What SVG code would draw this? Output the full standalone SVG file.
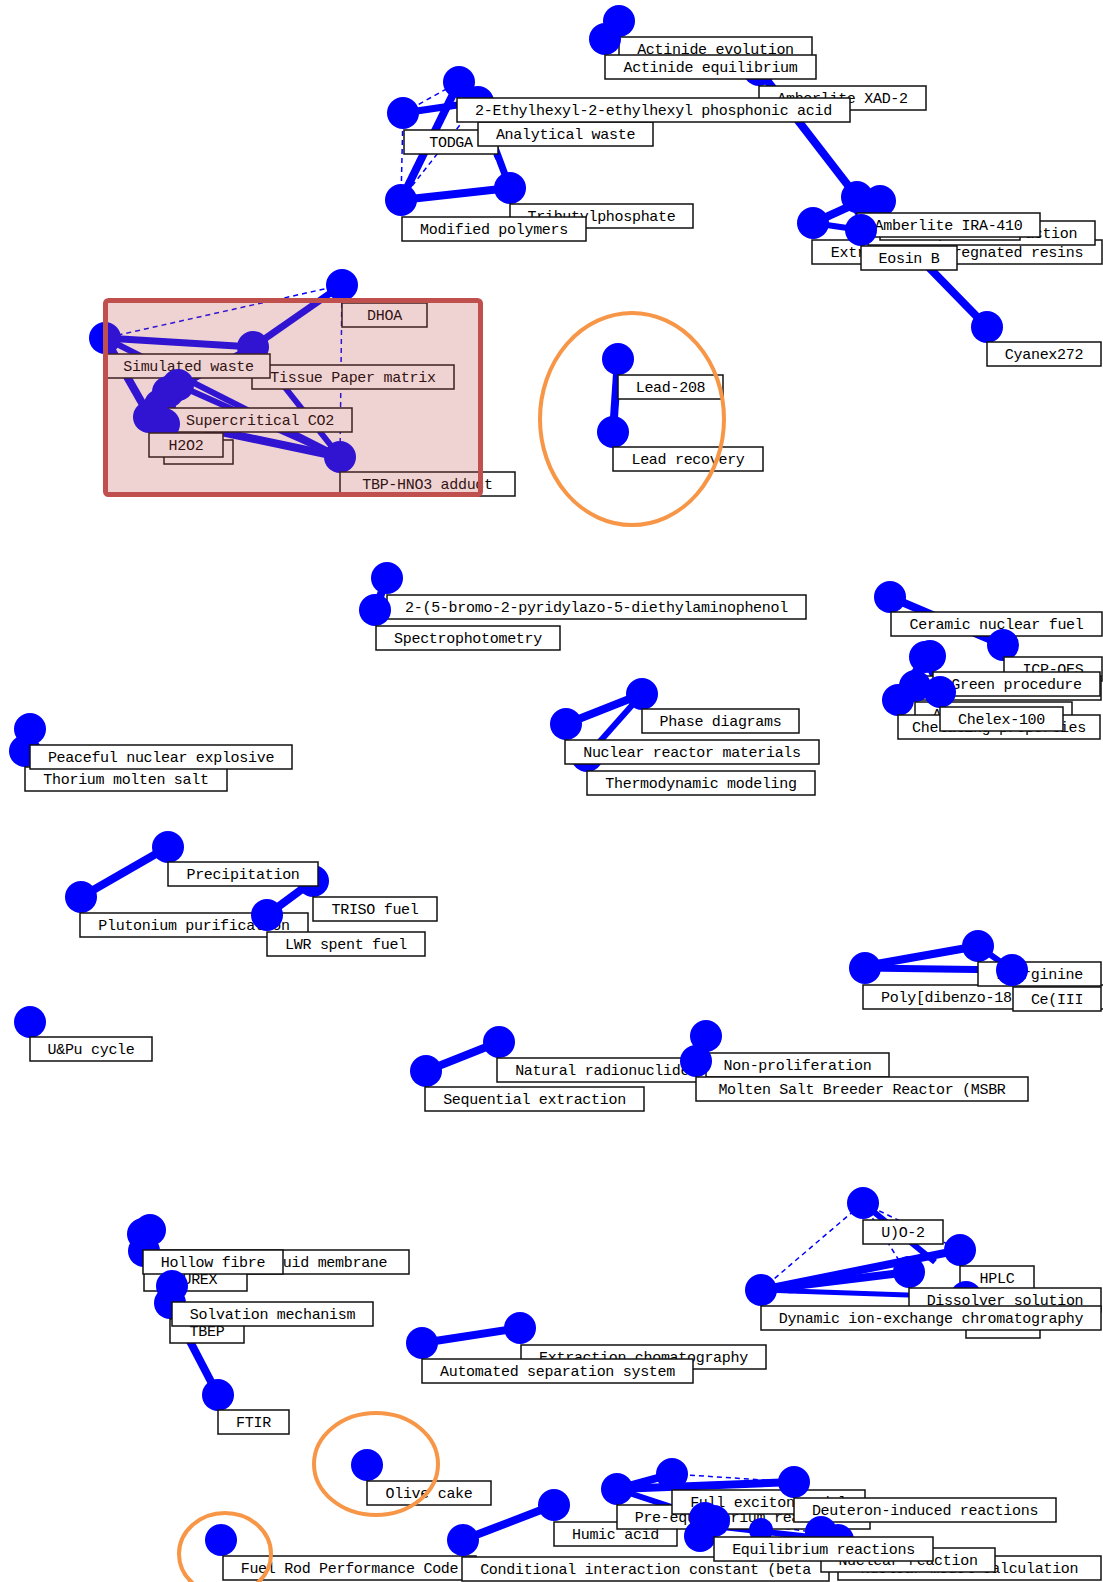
<svg xmlns="http://www.w3.org/2000/svg" width="1103" height="1582" viewBox="0 0 1103 1582">
<style>
.n{fill:#0000ff}
.b{fill:#fff;stroke:#111;stroke-width:1.5}
.t{font-family:"Liberation Mono","DejaVu Sans Mono",monospace;font-size:15px;letter-spacing:-0.3px;text-anchor:middle;fill:#000}
.e{stroke:#0000ff;fill:none}
.d{stroke:#0000ff;stroke-width:1.5;stroke-dasharray:5 4;fill:none}
.hl{fill:none;stroke:#f79646;stroke-width:4}
</style>
<rect width="1103" height="1582" fill="#fff"/>
<g id="connectors">
<line class="e" stroke-width="8" x1="459" y1="82" x2="401" y2="200"/>
<line class="e" stroke-width="7" x1="403" y1="113" x2="478" y2="102"/>
<line class="e" stroke-width="7" x1="478" y1="102" x2="510" y2="188"/>
<line class="e" stroke-width="8" x1="401" y1="200" x2="510" y2="188"/>
<line class="d" x1="403" y1="113" x2="459" y2="82"/>
<line class="d" x1="403" y1="113" x2="401" y2="200"/>
<line class="d" x1="401" y1="200" x2="478" y2="102"/>
<line class="d" x1="459" y1="82" x2="510" y2="188"/>
<line class="e" stroke-width="8" x1="619" y1="21" x2="605" y2="39"/>
<line class="e" stroke-width="8" x1="759" y1="70" x2="857" y2="197"/>
<line class="e" stroke-width="8" x1="813" y1="223" x2="857" y2="203"/>
<line class="e" stroke-width="8" x1="857" y1="197" x2="880" y2="201"/>
<line class="e" stroke-width="6" x1="813" y1="223" x2="861" y2="230"/>
<line class="e" stroke-width="8" x1="868" y1="205" x2="987" y2="327"/>
<line class="e" stroke-width="7" x1="342" y1="285" x2="253" y2="347"/>
<line class="d" x1="342" y1="285" x2="105" y2="338"/>
<line class="d" x1="342" y1="285" x2="340" y2="457"/>
<line class="e" stroke-width="7" x1="105" y1="338" x2="253" y2="347"/>
<line class="e" stroke-width="8" x1="105" y1="338" x2="150" y2="417"/>
<line class="e" stroke-width="6" x1="105" y1="338" x2="340" y2="457"/>
<line class="e" stroke-width="7" x1="253" y1="347" x2="168" y2="392"/>
<line class="e" stroke-width="6" x1="253" y1="347" x2="340" y2="457"/>
<line class="e" stroke-width="8" x1="150" y1="417" x2="340" y2="457"/>
<line class="e" stroke-width="6" x1="178" y1="385" x2="340" y2="457"/>
<line class="e" stroke-width="8" x1="618" y1="359" x2="613" y2="432"/>
<line class="e" stroke-width="8" x1="387" y1="578" x2="375" y2="610"/>
<line class="e" stroke-width="8" x1="890" y1="597" x2="1003" y2="645"/>
<line class="e" stroke-width="8" x1="925" y1="657" x2="898" y2="700"/>
<line class="e" stroke-width="6" x1="925" y1="657" x2="940" y2="692"/>
<line class="e" stroke-width="8" x1="30" y1="729" x2="25" y2="751"/>
<line class="e" stroke-width="8" x1="566" y1="724" x2="642" y2="694"/>
<line class="e" stroke-width="6" x1="642" y1="694" x2="587" y2="756"/>
<line class="e" stroke-width="8" x1="81" y1="897" x2="168" y2="847"/>
<line class="e" stroke-width="8" x1="313" y1="881" x2="267" y2="915"/>
<line class="e" stroke-width="8" x1="865" y1="966" x2="978" y2="946"/>
<line class="e" stroke-width="7" x1="865" y1="968" x2="1012" y2="970"/>
<line class="e" stroke-width="6" x1="978" y1="946" x2="1012" y2="970"/>
<line class="e" stroke-width="8" x1="426" y1="1071" x2="499" y2="1042"/>
<line class="e" stroke-width="8" x1="706" y1="1036" x2="696" y2="1061"/>
<line class="e" stroke-width="8" x1="148" y1="1234" x2="144" y2="1251"/>
<line class="e" stroke-width="8" x1="144" y1="1251" x2="172" y2="1286"/>
<line class="e" stroke-width="8" x1="172" y1="1286" x2="170" y2="1303"/>
<line class="e" stroke-width="8" x1="170" y1="1303" x2="218" y2="1395"/>
<line class="e" stroke-width="8" x1="422" y1="1343" x2="520" y2="1328"/>
<line class="e" stroke-width="8" x1="761" y1="1290" x2="960" y2="1250"/>
<line class="e" stroke-width="8" x1="761" y1="1290" x2="909" y2="1272"/>
<line class="e" stroke-width="6" x1="863" y1="1203" x2="935" y2="1262"/>
<line class="e" stroke-width="5" x1="761" y1="1290" x2="966" y2="1297"/>
<line class="d" x1="761" y1="1290" x2="863" y2="1203"/>
<line class="d" x1="761" y1="1292" x2="960" y2="1295"/>
<line class="d" x1="863" y1="1203" x2="900" y2="1262"/>
<line class="d" x1="863" y1="1203" x2="960" y2="1250"/>
<line class="e" stroke-width="8" x1="463" y1="1540" x2="554" y2="1505"/>
<line class="e" stroke-width="8" x1="617" y1="1489" x2="672" y2="1474"/>
<line class="e" stroke-width="8" x1="617" y1="1489" x2="794" y2="1482"/>
<line class="e" stroke-width="6" x1="617" y1="1489" x2="705" y2="1518"/>
<line class="d" x1="672" y1="1474" x2="794" y2="1482"/>
<line class="d" x1="705" y1="1518" x2="836" y2="1535"/>
<line class="e" stroke-width="8" x1="705" y1="1518" x2="700" y2="1536"/>
<line class="e" stroke-width="6" x1="705" y1="1525" x2="838" y2="1540"/>
</g>

<!-- top-left cluster -->
<g id="node-todga"><circle class="n" cx="403" cy="113" r="16"/><rect class="b" x="404" y="130" width="94" height="24"/><text class="t" x="451" y="147">TODGA</text></g>
<g id="node-modified-polymers-pre"><circle class="n" cx="510" cy="188" r="16"/><rect class="b" x="510" y="204" width="183" height="24"/><text class="t" x="601.5" y="221">Tributylphosphate</text></g>
<g id="node-modified-polymers"><circle class="n" cx="401" cy="200" r="16"/><rect class="b" x="402" y="217" width="184" height="24"/><text class="t" x="494" y="234">Modified polymers</text></g>
<g id="node-analytical-waste"><circle class="n" cx="478" cy="102" r="16"/><rect class="b" x="478" y="122" width="175" height="24"/><text class="t" x="565.5" y="139">Analytical waste</text></g>

<!-- top-right cluster -->
<g id="node-xad2"><circle class="n" cx="759" cy="70" r="16"/><rect class="b" x="759" y="86" width="167" height="24"/><text class="t" x="842.5" y="103">Amberlite XAD-2</text></g>
<g id="node-actinide-evolution"><circle class="n" cx="619" cy="21" r="16"/><rect class="b" x="619" y="37" width="193" height="24"/><text class="t" x="715.5" y="54">Actinide evolution</text></g>
<g id="node-actinide-equilibrium"><circle class="n" cx="605" cy="39" r="16"/><rect class="b" x="605" y="55" width="211" height="24"/><text class="t" x="710.5" y="72">Actinide equilibrium</text></g>
<g id="node-ethylhexyl"><circle class="n" cx="459" cy="82" r="16"/><rect class="b" x="457" y="98" width="393" height="24"/><text class="t" x="653.5" y="115">2-Ethylhexyl-2-ethylhexyl phosphonic acid</text></g>

<g id="node-impregnated-resins"><circle class="n" cx="813" cy="223" r="16"/><rect class="b" x="812" y="240" width="290" height="24"/><text class="t" x="957" y="257">Extractant-impregnated resins</text></g>
<g id="node-spe"><circle class="n" cx="868" cy="205" r="16"/><rect class="b" x="868" y="221" width="227" height="24"/><text class="t" x="981.5" y="238">Solid phase extraction</text></g>
<g id="node-hidden-1"><circle class="n" cx="880" cy="201" r="16"/><rect class="b" x="880" y="216" width="140" height="24"/></g>
<g id="node-ira410"><circle class="n" cx="857" cy="197" r="16"/><rect class="b" x="857" y="213" width="183" height="24"/><text class="t" x="948.5" y="230">Amberlite IRA-410</text></g>
<g id="node-eosin"><circle class="n" cx="861" cy="230" r="16"/><rect class="b" x="861" y="246" width="96" height="24"/><text class="t" x="909" y="263">Eosin B</text></g>
<g id="node-cyanex"><circle class="n" cx="987" cy="327" r="16"/><rect class="b" x="987" y="342" width="114" height="24"/><text class="t" x="1044" y="359">Cyanex272</text></g>

<!-- highlighted cluster -->
<g id="node-dhoa"><circle class="n" cx="342" cy="285" r="16"/><rect class="b" x="342" y="303" width="85" height="24"/><text class="t" x="384.5" y="320">DHOA</text></g>
<g id="node-tissue"><circle class="n" cx="253" cy="347" r="16"/><rect class="b" x="252" y="365" width="202" height="24"/><text class="t" x="353" y="382">Tissue Paper matrix</text></g>
<g id="node-simulated-waste"><circle class="n" cx="105" cy="338" r="16"/><rect class="b" x="107" y="354" width="163" height="24"/><text class="t" x="188.5" y="371">Simulated waste</text></g>
<g id="node-extra-blob"><circle class="n" cx="178" cy="385" r="16"/><circle class="n" cx="160" cy="405" r="16"/></g>
<g id="node-scco2"><circle class="n" cx="168" cy="392" r="16"/><rect class="b" x="168" y="408" width="184" height="24"/><text class="t" x="260" y="425">Supercritical CO2</text></g>
<g id="node-hidden-2"><circle class="n" cx="164" cy="424" r="16"/><rect class="b" x="164" y="440" width="69" height="24"/></g>
<g id="node-h2o2"><circle class="n" cx="149" cy="417" r="16"/><rect class="b" x="149" y="433" width="74" height="24"/><text class="t" x="186" y="450">H2O2</text></g>
<g id="node-tbp"><circle class="n" cx="340" cy="457" r="16"/><rect class="b" x="340" y="472" width="175" height="24"/><text class="t" x="427.5" y="489">TBP-HNO3 adduct</text></g>
<rect id="highlight-box" x="105.5" y="300.5" width="375" height="194" rx="3" fill="#c0504d" fill-opacity="0.25" stroke="#c0504d" stroke-width="5"/>

<!-- lead -->
<g id="node-lead208"><circle class="n" cx="618" cy="359" r="16"/><rect class="b" x="618" y="375" width="105" height="24"/><text class="t" x="670.5" y="392">Lead-208</text></g>
<g id="node-lead-recovery"><circle class="n" cx="613" cy="432" r="16"/><rect class="b" x="613" y="447" width="150" height="24"/><text class="t" x="688" y="464">Lead recovery</text></g>
<ellipse class="hl" cx="632" cy="419" rx="92" ry="106"/>

<!-- spectro -->
<g id="node-bromo"><circle class="n" cx="387" cy="578" r="16"/><rect class="b" x="387" y="595" width="419" height="24"/><text class="t" x="596.5" y="612">2-(5-bromo-2-pyridylazo-5-diethylaminophenol</text></g>
<g id="node-spectro"><circle class="n" cx="375" cy="610" r="16"/><rect class="b" x="376" y="626" width="184" height="24"/><text class="t" x="468" y="643">Spectrophotometry</text></g>

<!-- ceramic -->
<g id="node-ceramic"><circle class="n" cx="890" cy="597" r="16"/><rect class="b" x="891" y="612" width="211" height="24"/><text class="t" x="996.5" y="629">Ceramic nuclear fuel</text></g>
<g id="node-icp"><circle class="n" cx="1003" cy="645" r="16"/><rect class="b" x="1004" y="657" width="98" height="24"/><text class="t" x="1053" y="674">ICP-OES</text></g>
<g id="node-hidden-3"><circle class="n" cx="925" cy="657" r="16"/><rect class="b" x="917" y="676" width="184" height="24"/></g>
<g id="node-green"><circle class="n" cx="930" cy="656" r="16"/><rect class="b" x="933" y="672" width="167" height="24"/><text class="t" x="1016.5" y="689">Green procedure</text></g>
<g id="node-alpha"><circle class="n" cx="915" cy="686" r="16"/><rect class="b" x="915" y="702" width="157" height="24"/><text class="t" x="993.5" y="719">Alpha emitters</text></g>
<g id="node-chelating"><circle class="n" cx="898" cy="700" r="16"/><rect class="b" x="898" y="715" width="202" height="24"/><text class="t" x="999" y="732">Chelating properties</text></g>
<g id="node-chelex"><circle class="n" cx="940" cy="692" r="16"/><rect class="b" x="940" y="707" width="123" height="24"/><text class="t" x="1001.5" y="724">Chelex-100</text></g>

<!-- peaceful -->
<g id="node-thorium"><circle class="n" cx="25" cy="751" r="16"/><rect class="b" x="25" y="767" width="202" height="24"/><text class="t" x="126" y="784">Thorium molten salt</text></g>
<g id="node-peaceful"><circle class="n" cx="30" cy="729" r="16"/><rect class="b" x="30" y="745" width="262" height="24"/><text class="t" x="161" y="762">Peaceful nuclear explosive</text></g>

<!-- phase -->
<g id="node-thermo"><circle class="n" cx="587" cy="756" r="16"/><rect class="b" x="587" y="771" width="228" height="24"/><text class="t" x="701" y="788">Thermodynamic modeling</text></g>
<g id="node-nuclear-materials"><circle class="n" cx="566" cy="724" r="16"/><rect class="b" x="565" y="740" width="254" height="24"/><text class="t" x="692" y="757">Nuclear reactor materials</text></g>
<g id="node-phase"><circle class="n" cx="642" cy="694" r="16"/><rect class="b" x="642" y="709" width="157" height="24"/><text class="t" x="720.5" y="726">Phase diagrams</text></g>

<!-- precipitation -->
<g id="node-plutonium"><circle class="n" cx="81" cy="897" r="16"/><rect class="b" x="80" y="913" width="228" height="24"/><text class="t" x="194" y="930">Plutonium purification</text></g>
<g id="node-triso"><circle class="n" cx="313" cy="881" r="16"/><rect class="b" x="313" y="897" width="124" height="24"/><text class="t" x="375" y="914">TRISO fuel</text></g>
<g id="node-precipitation"><circle class="n" cx="168" cy="847" r="16"/><rect class="b" x="168" y="862" width="150" height="24"/><text class="t" x="243" y="879">Precipitation</text></g>
<g id="node-lwr"><circle class="n" cx="267" cy="915" r="16"/><rect class="b" x="267" y="932" width="158" height="24"/><text class="t" x="346" y="949">LWR spent fuel</text></g>

<!-- poly -->
<g id="node-poly"><circle class="n" cx="865" cy="968" r="16"/><rect class="b" x="863" y="985" width="245" height="24"/><text class="t" x="985.5" y="1002">Poly[dibenzo-18-crown-6]</text></g>
<g id="node-arginine"><circle class="n" cx="978" cy="946" r="16"/><rect class="b" x="978" y="962" width="123" height="24"/><text class="t" x="1039.5" y="979">L-arginine</text></g>
<g id="node-ce"><circle class="n" cx="1012" cy="970" r="16"/><rect class="b" x="1013" y="987" width="88" height="24"/><text class="t" x="1057" y="1004">Ce(III</text></g>

<g id="node-upu"><circle class="n" cx="30" cy="1022" r="16"/><rect class="b" x="30" y="1037" width="122" height="24"/><text class="t" x="91" y="1054">U&amp;Pu cycle</text></g>

<!-- natural -->
<g id="node-natural"><circle class="n" cx="499" cy="1042" r="16"/><rect class="b" x="497" y="1058" width="219" height="24"/><text class="t" x="606.5" y="1075">Natural radionuclides</text></g>
<g id="node-sequential"><circle class="n" cx="426" cy="1071" r="16"/><rect class="b" x="425" y="1087" width="219" height="24"/><text class="t" x="534.5" y="1104">Sequential extraction</text></g>
<g id="node-nonprolif"><circle class="n" cx="706" cy="1036" r="16"/><rect class="b" x="706" y="1053" width="183" height="24"/><text class="t" x="797.5" y="1070">Non-proliferation</text></g>
<g id="node-msbr"><circle class="n" cx="696" cy="1061" r="16"/><rect class="b" x="696" y="1077" width="332" height="24"/><text class="t" x="862" y="1094">Molten Salt Breeder Reactor (MSBR</text></g>

<!-- hollow fibre -->
<g id="node-slm"><circle class="n" cx="150" cy="1230" r="16"/><rect class="b" x="148" y="1250" width="261" height="24"/><text class="t" x="278.5" y="1267">Supported liquid membrane</text></g>
<g id="node-purex"><circle class="n" cx="144" cy="1251" r="16"/><rect class="b" x="144" y="1267" width="103" height="24"/><text class="t" x="195.5" y="1284">PUREX</text></g>
<g id="node-hollow"><circle class="n" cx="143" cy="1234" r="16"/><rect class="b" x="143" y="1250" width="140" height="24"/><text class="t" x="213" y="1267">Hollow fibre</text></g>
<g id="node-tbep"><circle class="n" cx="170" cy="1303" r="16"/><rect class="b" x="170" y="1319" width="74" height="24"/><text class="t" x="207" y="1336">TBEP</text></g>
<g id="node-solvation"><circle class="n" cx="172" cy="1286" r="16"/><rect class="b" x="172" y="1302" width="201" height="24"/><text class="t" x="272.5" y="1319">Solvation mechanism</text></g>
<g id="node-ftir"><circle class="n" cx="218" cy="1395" r="16"/><rect class="b" x="218" y="1410" width="71" height="24"/><text class="t" x="253.5" y="1427">FTIR</text></g>

<!-- automated -->
<g id="node-extchrom"><circle class="n" cx="520" cy="1328" r="16"/><rect class="b" x="521" y="1345" width="245" height="24"/><text class="t" x="643.5" y="1362">Extraction chomatography</text></g>
<g id="node-automated"><circle class="n" cx="422" cy="1343" r="16"/><rect class="b" x="422" y="1359" width="271" height="24"/><text class="t" x="557.5" y="1376">Automated separation system</text></g>

<!-- hplc -->
<g id="node-uo2"><circle class="n" cx="863" cy="1203" r="16"/><rect class="b" x="863" y="1220" width="80" height="24"/><text class="t" x="903" y="1237">U)O-2</text></g>
<g id="node-hplc"><circle class="n" cx="960" cy="1250" r="16"/><rect class="b" x="960" y="1266" width="74" height="24"/><text class="t" x="997" y="1283">HPLC</text></g>
<g id="node-hidden-4"><circle class="n" cx="966" cy="1297" r="16"/><rect class="b" x="966" y="1314" width="74" height="24"/></g>
<g id="node-dissolver"><circle class="n" cx="909" cy="1272" r="16"/><rect class="b" x="909" y="1288" width="192" height="24"/><text class="t" x="1005" y="1305">Dissolver solution</text></g>
<g id="node-dynamic"><circle class="n" cx="761" cy="1290" r="16"/><rect class="b" x="761" y="1306" width="340" height="24"/><text class="t" x="931" y="1323">Dynamic ion-exchange chromatography</text></g>

<!-- bottom -->
<g id="node-olive"><circle class="n" cx="367" cy="1465" r="16"/><rect class="b" x="367" y="1481" width="124" height="24"/><text class="t" x="429" y="1498">Olive cake</text></g>
<ellipse class="hl" cx="376" cy="1464" rx="62" ry="51"/>
<g id="node-fuelrod"><circle class="n" cx="221" cy="1540" r="16"/><rect class="b" x="223" y="1556" width="253" height="24"/><text class="t" x="349.5" y="1573">Fuel Rod Performance Code</text></g>
<g id="node-humic"><circle class="n" cx="554" cy="1505" r="16"/><rect class="b" x="554" y="1522" width="123" height="24"/><text class="t" x="615.5" y="1539">Humic acid</text></g>
<g id="node-conditional"><circle class="n" cx="463" cy="1540" r="16"/><rect class="b" x="462" y="1557" width="367" height="24"/><text class="t" x="645.5" y="1574">Conditional interaction constant (beta</text></g>
<ellipse class="hl" cx="225" cy="1554" rx="46" ry="41"/>

<g id="node-preeq"><circle class="n" cx="617" cy="1489" r="16"/><rect class="b" x="617" y="1505" width="253" height="24"/><text class="t" x="743.5" y="1522">Pre-equilibrium reactions</text></g>
<g id="node-exciton"><circle class="n" cx="672" cy="1474" r="16"/><rect class="b" x="672" y="1490" width="193" height="24"/><text class="t" x="768.5" y="1507">Full exciton model</text></g>
<g id="node-deuteron"><circle class="n" cx="794" cy="1482" r="16"/><rect class="b" x="794" y="1498" width="262" height="24"/><text class="t" x="925" y="1515">Deuteron-induced reactions</text></g>
<g id="node-blob-b"><circle class="n" cx="705" cy="1518" r="16"/><circle class="n" cx="700" cy="1536" r="16"/><circle class="n" cx="761" cy="1530" r="12"/></g>
<g id="node-calc"><circle class="n" cx="838" cy="1540" r="16"/><rect class="b" x="838" y="1556" width="263" height="24"/><text class="t" x="969.5" y="1573">Nuclear model calculation</text></g>
<g id="node-nucreact"><circle class="n" cx="821" cy="1532" r="16"/><rect class="b" x="821" y="1548" width="174" height="24"/><text class="t" x="908" y="1565">Nuclear reaction</text></g>
<g id="node-equil"><circle class="n" cx="714" cy="1521" r="16"/><rect class="b" x="714" y="1537" width="219" height="24"/><text class="t" x="823.5" y="1554">Equilibrium reactions</text></g>
</svg>
